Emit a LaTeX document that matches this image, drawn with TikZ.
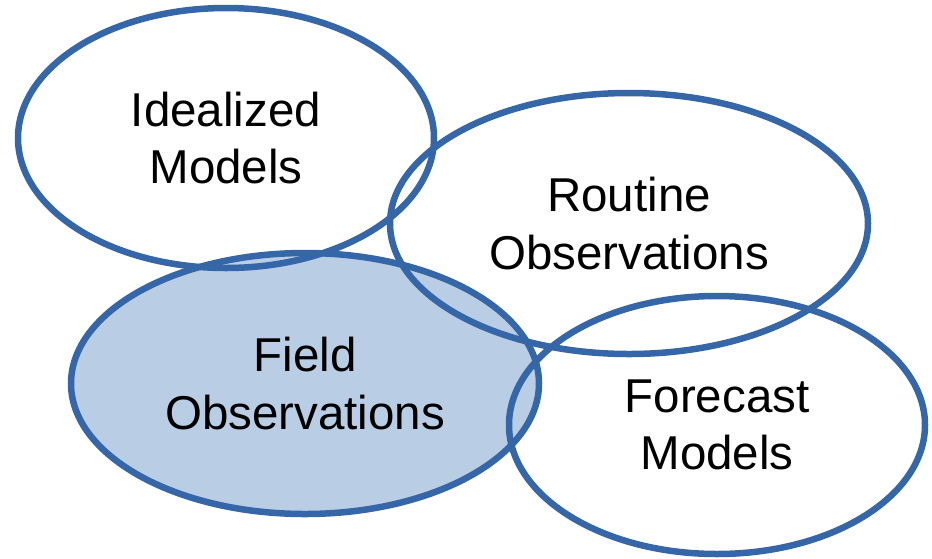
\documentclass[tikz,border=0pt]{standalone}
\usepackage{fontspec}
\setmainfont{Liberation Sans}
\usetikzlibrary{shapes.geometric}
\definecolor{ringblue}{HTML}{3566A8}
\definecolor{fieldfill}{HTML}{B9CDE5}
\tikzset{
  ring/.style={ellipse, draw=ringblue, line width=6.5pt, inner sep=0pt,
    align=center, font=\fontsize{47.5}{57.5}\selectfont, text=black},
}
\begin{document}
\begin{tikzpicture}[x=1pt,y=-1pt]
\useasboundingbox (0,0) rectangle (932,558);
\node[ring, fill=fieldfill, minimum width=468, minimum height=261] (field) at (305,383.5) {Field\\Observations};
\node[ring, minimum width=416, minimum height=260] (ideal) at (226,138) {Idealized\\Models};
\node[ring, minimum width=478, minimum height=261] (routine) at (629,223.5) {Routine\\Observations};
\node[ring, minimum width=416, minimum height=258] (forecast) at (717,425) {Forecast\\Models};
\end{tikzpicture}
\end{document}
